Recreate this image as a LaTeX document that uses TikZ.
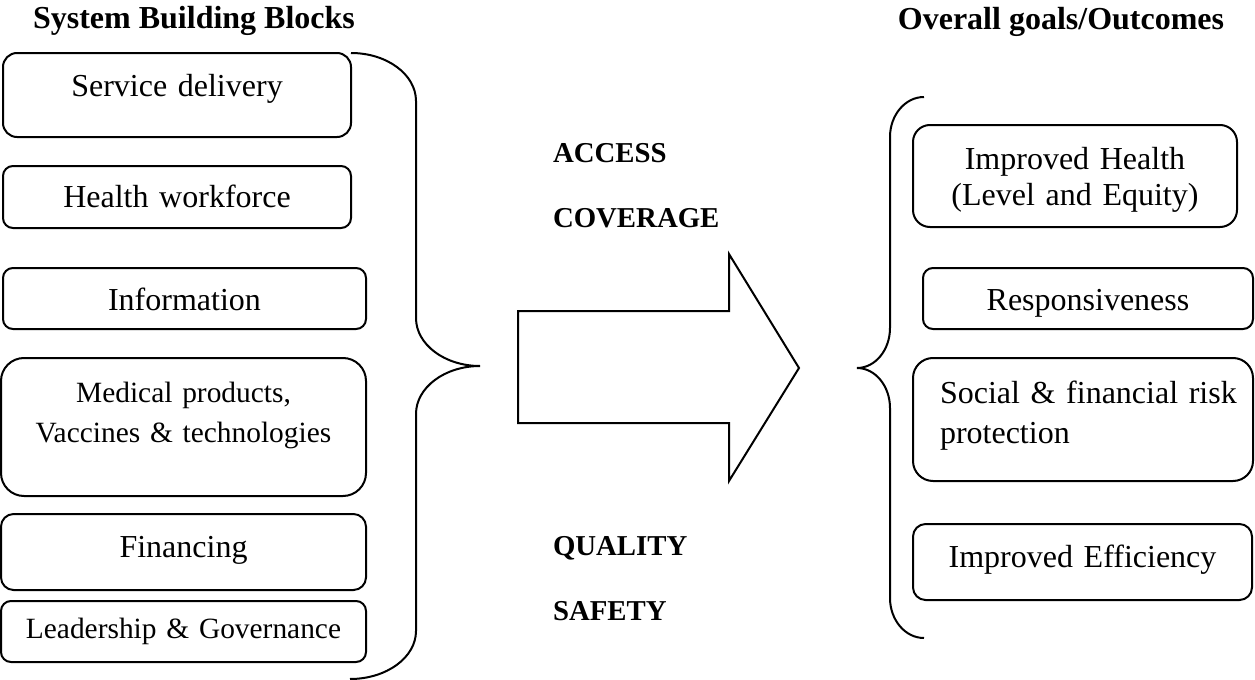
\documentclass[tikz,border=0pt]{standalone}
\usepackage{fontspec}
\setmainfont{Liberation Serif}

\begin{document}
\begin{tikzpicture}[x=0.5pt, y=-0.5pt, line width=1pt,
    block/.style={draw, inner sep=0pt, anchor=base, align=center,
        font=\fontsize{16}{18.4}\selectfont},
    smallblock/.style={block, font=\fontsize{14.7}{20}\selectfont},
    title/.style={anchor=base, inner sep=0pt, font=\fontsize{16}{19}\selectfont\bfseries},
    factor/.style={anchor=base west, inner sep=0pt, font=\fontsize{14.4}{17}\selectfont\bfseries}]
    \useasboundingbox (0,0) rectangle (1255,680);

    % Headings
    \node[title] (blocks) at (194,28) {System Building Blocks};
    \node[title] (goals) at (1061,29) {Overall goals/Outcomes};

    % Building blocks
    \node[block, text width=174pt, text height=22pt, text depth=20pt, rounded corners=7pt]
        (service) at (177,97) {Service delivery};
    \node[block, text width=174pt, text height=20.5pt, text depth=10.5pt, rounded corners=5pt]
        (workforce) at (177,207) {Health workforce};
    \node[block, text width=181.5pt, text height=21pt, text depth=9.5pt, rounded corners=5pt]
        (information) at (184.5,310) {Information};
    \node[smallblock, text width=182.5pt, text height=22pt, text depth=47pt, rounded corners=11.5pt]
        (medical) at (183.5,402) {Medical products,\\Vaccines \& technologies};
    \node[block, text width=182.5pt, text height=21.5pt, text depth=16.5pt, rounded corners=6.3pt]
        (financing) at (183.5,557) {Financing};
    \node[smallblock, text width=182.5pt, text height=18.5pt, text depth=12pt, rounded corners=5pt]
        (leadership) at (183.5,638) {Leadership \& Governance};

    % Brace round the blocks
    \draw (351,53) .. controls (387,53) and (416,74.5) .. (416,101)
        -- (416,318) .. controls (416,344.5) and (444.7,366) .. (480,366)
        .. controls (444.7,366) and (416,387.5) .. (416,414)
        -- (416,631) .. controls (416,657.5) and (386.5,679) .. (350,679);

    % Big arrow with the four factors
    \draw (518,311) -- (729,311) -- (729,254) -- (799,368) -- (729,481)
        -- (729,423) -- (518,423) -- cycle;
    \node[factor] (access) at (552,162) {ACCESS};
    \node[factor] (coverage) at (552,227) {COVERAGE};
    \node[factor] (quality) at (552,555) {QUALITY};
    \node[factor] (safety) at (552,620) {SAFETY};

    % Brace round the goals
    \draw (924,97) .. controls (905.2,97) and (890,115) .. (890,137)
        -- (890,328) .. controls (890,350) and (875.2,368) .. (857,368)
        .. controls (875.2,368) and (890,386) .. (890,408)
        -- (890,598) .. controls (890,620) and (905.2,638) .. (924,638);

    % Goals
    \node[block, text width=162pt, text height=22pt, text depth=29pt, rounded corners=8.5pt]
        (health) at (1075,169) {Improved Health\\(Level and Equity)};
    \node[block, text width=165pt, text height=21pt, text depth=9.5pt, rounded corners=5pt]
        (responsiveness) at (1088,310) {Responsiveness};
    \node[block, align=left, text width=170pt, text height=22.5pt, text depth=39pt, rounded corners=10pt,
        font=\fontsize{16}{20}\selectfont]
        (protection) at (1083,403)
        {\hspace*{13.5pt}Social \& financial risk\\\hspace*{13.5pt}protection};
    \node[block, text width=169.5pt, text height=21.5pt, text depth=16.5pt, rounded corners=6.3pt]
        (efficiency) at (1082.5,567) {Improved Efficiency};
\end{tikzpicture}
\end{document}
